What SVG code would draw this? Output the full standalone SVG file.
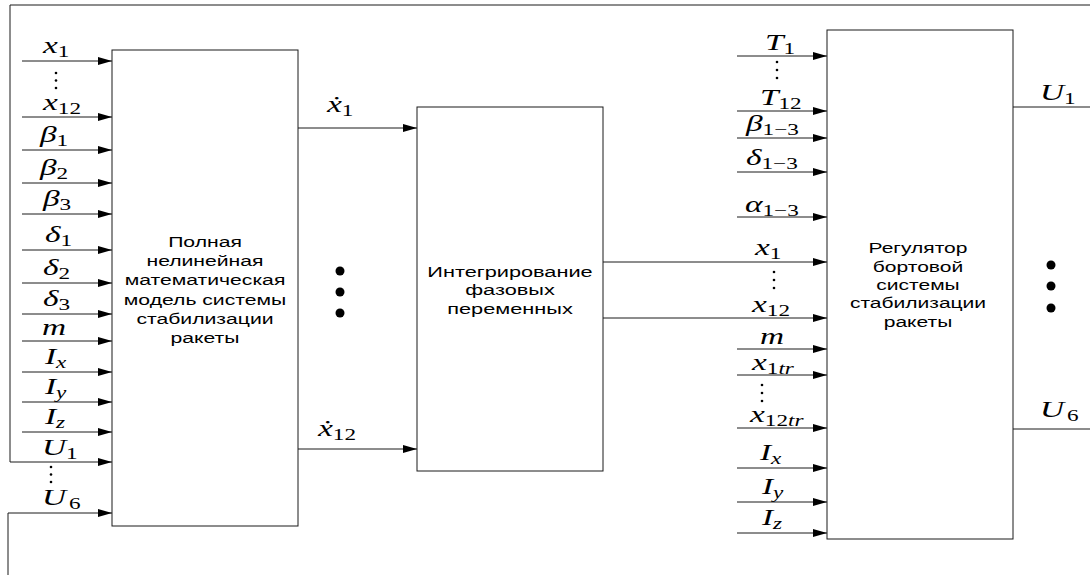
<svg xmlns="http://www.w3.org/2000/svg" width="1090" height="577" viewBox="0 0 1090 577">
<style>
.ln{stroke:#1a1a1a;stroke-width:1;fill:none}
.box{stroke:#1a1a1a;stroke-width:1;fill:#fff}
.m{font-family:"Liberation Serif","Times New Roman",serif;font-style:italic;font-size:23px;fill:#000}
.s{font-size:16px;font-style:normal}
.si{font-size:16px;font-style:italic}
.t{font-family:"Liberation Sans",Arial,sans-serif;font-size:14.5px;fill:#000;text-anchor:middle}
.d{fill:#000}
</style>
<defs>
<marker id="ah" markerWidth="14" markerHeight="8" refX="14" refY="4" orient="auto" markerUnits="userSpaceOnUse">
<path d="M0,0 L14,4 L0,8 z" fill="#000"/>
</marker>
</defs>

<g id="connectors">
<path class="ln" d="M1090,5 H10 V462 H112" marker-end="url(#ah)"/>
<path class="ln" d="M8,575 V513 H112" marker-end="url(#ah)"/>
<path class="ln" d="M22,61 H112" marker-end="url(#ah)"/>
<path class="ln" d="M22,117 H112" marker-end="url(#ah)"/>
<path class="ln" d="M22,150 H112" marker-end="url(#ah)"/>
<path class="ln" d="M22,183 H112" marker-end="url(#ah)"/>
<path class="ln" d="M22,214 H112" marker-end="url(#ah)"/>
<path class="ln" d="M22,250 H112" marker-end="url(#ah)"/>
<path class="ln" d="M22,283 H112" marker-end="url(#ah)"/>
<path class="ln" d="M22,314 H112" marker-end="url(#ah)"/>
<path class="ln" d="M22,341 H112" marker-end="url(#ah)"/>
<path class="ln" d="M22,372 H112" marker-end="url(#ah)"/>
<path class="ln" d="M22,402 H112" marker-end="url(#ah)"/>
<path class="ln" d="M22,432 H112" marker-end="url(#ah)"/>
<path class="ln" d="M298,128 H417" marker-end="url(#ah)"/>
<path class="ln" d="M298,449 H417" marker-end="url(#ah)"/>
<path class="ln" d="M603,262 H827" marker-end="url(#ah)"/>
<path class="ln" d="M603,318 H827" marker-end="url(#ah)"/>
<path class="ln" d="M737,56 H827" marker-end="url(#ah)"/>
<path class="ln" d="M737,111 H827" marker-end="url(#ah)"/>
<path class="ln" d="M737,138 H827" marker-end="url(#ah)"/>
<path class="ln" d="M737,172 H827" marker-end="url(#ah)"/>
<path class="ln" d="M737,217 H827" marker-end="url(#ah)"/>
<path class="ln" d="M737,349 H827" marker-end="url(#ah)"/>
<path class="ln" d="M737,375 H827" marker-end="url(#ah)"/>
<path class="ln" d="M737,428 H827" marker-end="url(#ah)"/>
<path class="ln" d="M737,468 H827" marker-end="url(#ah)"/>
<path class="ln" d="M737,502 H827" marker-end="url(#ah)"/>
<path class="ln" d="M737,533 H827" marker-end="url(#ah)"/>
<path class="ln" d="M1013,107 H1090"/>
<path class="ln" d="M1013,429 H1090"/>
</g>

<g id="node-model">
<rect class="box" x="112" y="50" width="186" height="476"/>
<g transform="translate(205,0) scale(1.46,1)">
<text class="t" x="0" y="247">Полная</text>
<text class="t" x="0" y="266">нелинейная</text>
<text class="t" x="0" y="285">математическая</text>
<text class="t" x="0" y="305">модель системы</text>
<text class="t" x="0" y="324">стабилизации</text>
<text class="t" x="0" y="343">ракеты</text>
</g>
</g>

<g id="node-integr">
<rect class="box" x="417" y="107" width="186" height="364"/>
<g transform="translate(510,0) scale(1.5,1)">
<text class="t" x="0" y="277">Интегрирование</text>
<text class="t" x="0" y="295">фазовых</text>
<text class="t" x="0" y="314">переменных</text>
</g>
</g>

<g id="node-reg">
<rect class="box" x="827" y="30" width="186" height="509"/>
<g transform="translate(918,0) scale(1.45,1)">
<text class="t" x="0" y="253">Регулятор</text>
<text class="t" x="0" y="272">бортовой</text>
<text class="t" x="0" y="290">системы</text>
<text class="t" x="0" y="308">стабилизации</text>
<text class="t" x="0" y="327">ракеты</text>
</g>
</g>

<g id="labels-left">
<text class="m" transform="translate(43,53) scale(1.45,1)">x<tspan class="s" dy="4">1</tspan></text>
<text class="m" transform="translate(43,110) scale(1.45,1)">x<tspan class="s" dy="4">12</tspan></text>
<text class="m" transform="translate(40,142) scale(1.45,1)">β<tspan class="s" dy="4">1</tspan></text>
<text class="m" transform="translate(40,175) scale(1.45,1)">β<tspan class="s" dy="4">2</tspan></text>
<text class="m" transform="translate(43,206) scale(1.45,1)">β<tspan class="s" dy="4">3</tspan></text>
<text class="m" transform="translate(45,242) scale(1.45,1)">δ<tspan class="s" dy="4">1</tspan></text>
<text class="m" transform="translate(43,275) scale(1.45,1)">δ<tspan class="s" dy="4">2</tspan></text>
<text class="m" transform="translate(43,306) scale(1.45,1)">δ<tspan class="s" dy="4">3</tspan></text>
<text class="m" transform="translate(42,335) scale(1.45,1)">m</text>
<text class="m" transform="translate(45,364) scale(1.45,1)">I<tspan class="si" dy="4">x</tspan></text>
<text class="m" transform="translate(45,394) scale(1.45,1)">I<tspan class="si" dy="4">y</tspan></text>
<text class="m" transform="translate(45,424) scale(1.45,1)">I<tspan class="si" dy="4">z</tspan></text>
<text class="m" transform="translate(42,455) scale(1.45,1)">U<tspan class="s" dy="4">1</tspan></text>
<text class="m" transform="translate(42,505) scale(1.45,1)">U<tspan class="s" dx="2" dy="4">6</tspan></text>
<circle class="d" cx="56" cy="73" r="1.3"/><circle class="d" cx="56" cy="80.5" r="1.3"/><circle class="d" cx="56" cy="88" r="1.3"/>
<circle class="d" cx="51" cy="467" r="1.3"/><circle class="d" cx="51" cy="474.5" r="1.3"/><circle class="d" cx="51" cy="482" r="1.3"/>
</g>

<g id="labels-mid">
<text class="m" transform="translate(327,112) scale(1.45,1)">ẋ<tspan class="s" dy="4">1</tspan></text>
<text class="m" transform="translate(318,436) scale(1.45,1)">ẋ<tspan class="s" dy="4">12</tspan></text>
<circle class="d" cx="340" cy="271" r="4.5"/><circle class="d" cx="340" cy="292" r="4.5"/><circle class="d" cx="340" cy="313" r="4.5"/>
</g>

<g id="labels-right">
<text class="m" transform="translate(765,50) scale(1.45,1)">T<tspan class="s" dy="4">1</tspan></text>
<text class="m" transform="translate(760,105) scale(1.45,1)">T<tspan class="s" dy="4">12</tspan></text>
<text class="m" transform="translate(746,131) scale(1.45,1)">β<tspan class="s" dy="4">1−3</tspan></text>
<text class="m" transform="translate(746,165) scale(1.45,1)">δ<tspan class="s" dy="4">1−3</tspan></text>
<text class="m" transform="translate(745,212) scale(1.45,1)">α<tspan class="s" dy="4">1−3</tspan></text>
<text class="m" transform="translate(755,255) scale(1.45,1)">x<tspan class="s" dy="4">1</tspan></text>
<text class="m" transform="translate(752,312) scale(1.45,1)">x<tspan class="s" dy="4">12</tspan></text>
<text class="m" transform="translate(760,344) scale(1.45,1)">m</text>
<text class="m" transform="translate(752,370) scale(1.45,1)">x<tspan class="s" dy="4">1</tspan><tspan class="si">tr</tspan></text>
<text class="m" transform="translate(750,422) scale(1.45,1)">x<tspan class="s" dy="4">12</tspan><tspan class="si">tr</tspan></text>
<text class="m" transform="translate(760,460) scale(1.45,1)">I<tspan class="si" dy="4">x</tspan></text>
<text class="m" transform="translate(762,494) scale(1.45,1)">I<tspan class="si" dy="4">y</tspan></text>
<text class="m" transform="translate(762,525) scale(1.45,1)">I<tspan class="si" dy="4">z</tspan></text>
<circle class="d" cx="777" cy="62" r="1.3"/><circle class="d" cx="777" cy="70" r="1.3"/><circle class="d" cx="777" cy="78" r="1.3"/>
<circle class="d" cx="774" cy="272" r="1.3"/><circle class="d" cx="774" cy="280" r="1.3"/><circle class="d" cx="774" cy="288" r="1.3"/>
<circle class="d" cx="762" cy="385" r="1.3"/><circle class="d" cx="762" cy="393" r="1.3"/><circle class="d" cx="762" cy="401" r="1.3"/>
<text class="m" transform="translate(1040,100) scale(1.45,1)">U<tspan class="s" dy="4">1</tspan></text>
<text class="m" transform="translate(1040,417) scale(1.45,1)">U<tspan class="s" dx="2" dy="4">6</tspan></text>
<circle class="d" cx="1051" cy="265" r="4.5"/><circle class="d" cx="1051" cy="286" r="4.5"/><circle class="d" cx="1051" cy="308" r="4.5"/>
</g>
</svg>
